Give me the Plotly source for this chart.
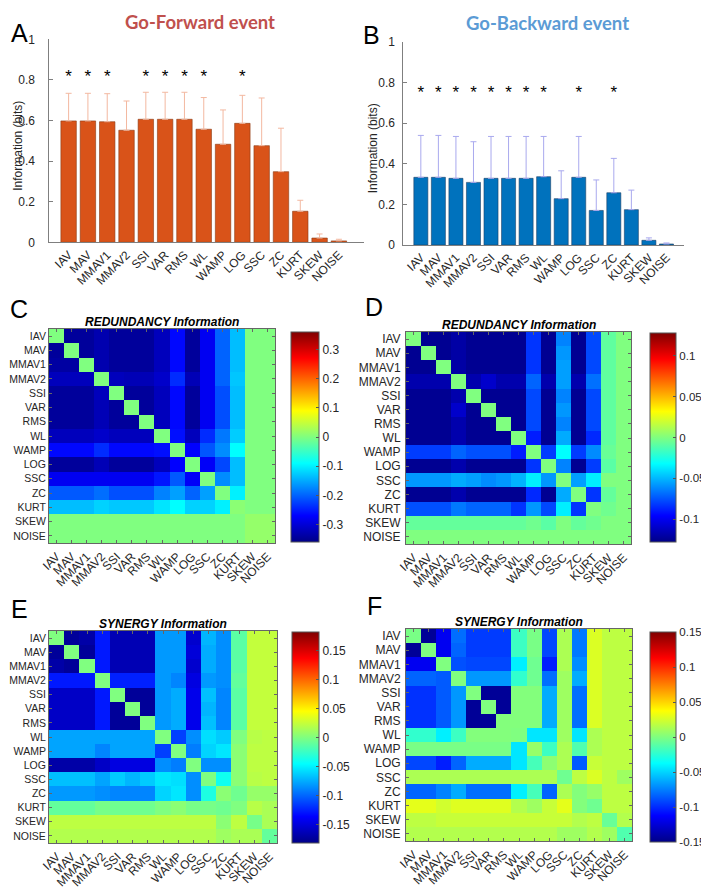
import plotly.graph_objects as go

W, H = 709, 888
# the page body adds an 8px margin; compensate so that marks land where the reference has them
OX, OY = 8, 8

features = ["IAV", "MAV", "MMAV1", "MMAV2", "SSI", "VAR", "RMS", "WL",
            "WAMP", "LOG", "SSC", "ZC", "KURT", "SKEW", "NOISE"]

# Panel A: Go-Forward information (bits) and upper error
fwd_info = [0.598, 0.598, 0.594, 0.552, 0.606, 0.606, 0.606, 0.557,
            0.483, 0.586, 0.476, 0.348, 0.153, 0.021, 0.007]
fwd_err = [0.136, 0.136, 0.138, 0.144, 0.133, 0.133, 0.133, 0.156,
           0.169, 0.138, 0.235, 0.214, 0.054, 0.020, 0.008]
fwd_sig = ["IAV", "MAV", "MMAV1", "SSI", "VAR", "RMS", "WL", "LOG"]
fwd_star_level = 0.81

# Panel B: Go-Backward information (bits) and upper error
bwd_info = [0.333, 0.333, 0.328, 0.308, 0.328, 0.328, 0.328, 0.336,
            0.228, 0.333, 0.170, 0.257, 0.174, 0.023, 0.005]
bwd_err = [0.206, 0.206, 0.206, 0.200, 0.206, 0.206, 0.206, 0.198,
           0.137, 0.201, 0.150, 0.169, 0.096, 0.012, 0.005]
bwd_sig = ["IAV", "MAV", "MMAV1", "MMAV2", "SSI", "VAR", "RMS", "WL", "LOG", "ZC"]
bwd_star_level = 0.745

# Panel C: redundancy, go-forward
red_fwd = [
    [0, -0.345, -0.345, -0.33, -0.345, -0.345, -0.345, -0.32, -0.265, -0.345, -0.28, -0.2, -0.136, 0, 0],
    [-0.345, 0, -0.345, -0.33, -0.345, -0.345, -0.345, -0.32, -0.265, -0.345, -0.28, -0.2, -0.136, 0, 0],
    [-0.34, -0.34, 0, -0.33, -0.345, -0.345, -0.345, -0.32, -0.265, -0.345, -0.28, -0.2, -0.136, 0, 0],
    [-0.32, -0.32, -0.32, 0, -0.32, -0.325, -0.325, -0.31, -0.24, -0.325, -0.28, -0.2, -0.13, 0, 0],
    [-0.345, -0.345, -0.345, -0.32, 0, -0.345, -0.345, -0.32, -0.265, -0.345, -0.28, -0.215, -0.136, 0, 0],
    [-0.345, -0.345, -0.345, -0.325, -0.345, 0, -0.345, -0.32, -0.265, -0.345, -0.28, -0.215, -0.136, 0, 0],
    [-0.345, -0.345, -0.345, -0.325, -0.345, -0.345, 0, -0.32, -0.265, -0.345, -0.28, -0.215, -0.136, 0, 0],
    [-0.32, -0.32, -0.32, -0.31, -0.32, -0.32, -0.32, 0, -0.26, -0.32, -0.24, -0.185, -0.125, 0, 0],
    [-0.265, -0.265, -0.265, -0.24, -0.265, -0.265, -0.265, -0.26, 0, -0.27, -0.21, -0.171, -0.09, 0, 0],
    [-0.345, -0.345, -0.345, -0.325, -0.345, -0.345, -0.345, -0.32, -0.27, 0, -0.275, -0.22, -0.136, 0, 0],
    [-0.28, -0.28, -0.28, -0.28, -0.28, -0.28, -0.28, -0.255, -0.207, -0.275, 0, -0.171, -0.136, 0, 0],
    [-0.207, -0.207, -0.207, -0.192, -0.214, -0.214, -0.214, -0.178, -0.157, -0.2, -0.157, 0, -0.1, 0, 0],
    [-0.136, -0.136, -0.136, -0.122, -0.129, -0.129, -0.129, -0.108, -0.09, -0.122, -0.122, -0.1, 0.008, 0, 0],
    [0, 0, 0, 0, 0, 0, 0, 0, 0, 0, 0, 0, 0, 0.015, 0.015],
    [0, 0, 0, 0, 0, 0, 0, 0, 0, 0, 0, 0, 0, 0.015, 0.015],
]

# Panel D: redundancy, go-backward
red_bwd = [
    [0, -0.125, -0.125, -0.12, -0.125, -0.125, -0.125, -0.125, -0.083, -0.125, -0.063, -0.125, -0.078, -0.008, 0],
    [-0.125, 0, -0.125, -0.12, -0.125, -0.125, -0.125, -0.125, -0.083, -0.125, -0.058, -0.125, -0.078, -0.008, 0],
    [-0.125, -0.125, 0, -0.12, -0.125, -0.125, -0.125, -0.125, -0.083, -0.125, -0.056, -0.125, -0.078, -0.008, 0],
    [-0.118, -0.118, -0.118, 0, -0.118, -0.11, -0.118, -0.118, -0.071, -0.118, -0.056, -0.118, -0.068, -0.008, 0],
    [-0.125, -0.125, -0.125, -0.118, 0, -0.125, -0.125, -0.125, -0.078, -0.125, -0.063, -0.125, -0.078, -0.008, 0],
    [-0.125, -0.125, -0.125, -0.11, -0.125, 0, -0.125, -0.125, -0.078, -0.125, -0.058, -0.125, -0.078, -0.008, 0],
    [-0.125, -0.125, -0.125, -0.118, -0.125, -0.125, 0, -0.125, -0.078, -0.125, -0.063, -0.125, -0.078, -0.008, 0],
    [-0.125, -0.125, -0.125, -0.118, -0.125, -0.125, -0.125, 0, -0.089, -0.125, -0.053, -0.125, -0.086, -0.008, 0],
    [-0.081, -0.081, -0.081, -0.071, -0.076, -0.076, -0.076, -0.089, 0, -0.081, -0.032, -0.081, -0.061, -0.006, 0],
    [-0.125, -0.125, -0.125, -0.118, -0.125, -0.125, -0.125, -0.125, -0.083, 0, -0.063, -0.125, -0.081, -0.0095, 0],
    [-0.058, -0.058, -0.058, -0.053, -0.056, -0.061, -0.058, -0.051, -0.036, -0.058, 0, -0.056, -0.036, 0, 0],
    [-0.125, -0.125, -0.125, -0.118, -0.125, -0.125, -0.125, -0.125, -0.086, -0.125, -0.053, 0, -0.083, -0.007, 0],
    [-0.076, -0.076, -0.076, -0.066, -0.071, -0.071, -0.071, -0.083, -0.058, -0.078, -0.036, -0.083, 0, -0.004, 0],
    [-0.007, -0.007, -0.007, -0.007, -0.007, -0.007, -0.007, -0.007, -0.004, -0.0095, 0, -0.007, -0.004, 0, 0],
    [0, 0, 0, 0, 0, 0, 0, 0, 0, 0, 0, 0, 0, 0, 0],
]

# Panel E: synergy, go-forward
syn_fwd = [
    [0, -0.175, -0.17, -0.128, -0.165, -0.165, -0.165, -0.082, -0.082, -0.155, -0.072, -0.086, -0.013, 0.024, 0.024],
    [-0.175, 0, -0.175, -0.128, -0.165, -0.165, -0.165, -0.082, -0.082, -0.151, -0.075, -0.086, -0.013, 0.024, 0.024],
    [-0.17, -0.175, 0, -0.128, -0.165, -0.165, -0.165, -0.082, -0.082, -0.155, -0.075, -0.086, -0.013, 0.024, 0.024],
    [-0.128, -0.128, -0.128, 0, -0.125, -0.125, -0.125, -0.082, -0.089, -0.148, -0.082, -0.086, -0.01, 0.024, 0.024],
    [-0.158, -0.158, -0.158, -0.128, 0, -0.175, -0.175, -0.082, -0.075, -0.144, -0.068, -0.089, -0.013, 0.024, 0.024],
    [-0.158, -0.158, -0.158, -0.128, -0.175, 0, -0.175, -0.082, -0.075, -0.144, -0.072, -0.089, -0.013, 0.024, 0.024],
    [-0.158, -0.158, -0.158, -0.128, -0.175, -0.175, 0, -0.082, -0.075, -0.144, -0.068, -0.089, -0.013, 0.024, 0.024],
    [-0.078, -0.078, -0.078, -0.078, -0.078, -0.078, -0.078, 0, -0.114, -0.086, -0.057, -0.064, 0, 0.02, 0.022],
    [-0.078, -0.078, -0.078, -0.089, -0.078, -0.078, -0.078, -0.114, 0, -0.092, -0.061, -0.054, 0.004, 0.022, 0.022],
    [-0.17, -0.17, -0.17, -0.158, -0.148, -0.148, -0.148, -0.086, -0.092, 0, -0.086, -0.086, 0.004, 0.022, 0.022],
    [-0.068, -0.068, -0.068, -0.078, -0.064, -0.072, -0.064, -0.054, -0.057, -0.086, 0, -0.04, 0.004, 0.02, 0.022],
    [-0.082, -0.082, -0.082, -0.086, -0.089, -0.089, -0.089, -0.061, -0.054, -0.086, -0.035, 0.004, -0.006, 0.008, 0.008],
    [-0.01, -0.01, -0.01, -0.003, -0.006, -0.006, -0.006, 0, 0.004, -0.003, -0.003, -0.006, 0, 0.02, 0.015],
    [0.022, 0.022, 0.022, 0.022, 0.022, 0.022, 0.022, 0.022, 0.022, 0.022, 0.022, 0.004, 0.022, -0.003, 0.015],
    [0.018, 0.018, 0.018, 0.018, 0.018, 0.018, 0.018, 0.018, 0.018, 0.018, 0.018, 0.011, 0.015, 0.015, -0.01],
]

# Panel F: synergy, go-backward
syn_bwd = [
    [-0.002, -0.145, -0.117, -0.08, -0.095, -0.095, -0.095, -0.02, -0.002, -0.092, 0.013, -0.077, 0.027, 0.018, 0.018],
    [-0.145, 0, -0.117, -0.083, -0.095, -0.095, -0.095, -0.02, -0.002, -0.092, 0.013, -0.077, 0.027, 0.018, 0.018],
    [-0.117, -0.117, 0, -0.089, -0.092, -0.092, -0.092, -0.042, -0.005, -0.104, 0.013, -0.071, 0.027, 0.018, 0.018],
    [-0.083, -0.083, -0.086, 0, -0.068, -0.068, -0.068, -0.023, -0.005, -0.08, 0.009, -0.062, 0.027, 0.018, 0.018],
    [-0.098, -0.098, -0.086, -0.068, 0, -0.145, -0.145, 0.001, 0.001, -0.062, 0.009, -0.08, 0.027, 0.018, 0.018],
    [-0.098, -0.098, -0.086, -0.068, -0.145, 0, -0.145, 0.001, 0.001, -0.062, 0.009, -0.08, 0.027, 0.018, 0.018],
    [-0.098, -0.098, -0.086, -0.068, -0.145, -0.145, 0.001, 0.001, 0.001, -0.062, 0.009, -0.08, 0.027, 0.018, 0.018],
    [-0.023, -0.023, -0.042, -0.02, 0.001, 0.001, 0.001, 0, -0.045, -0.045, 0.009, -0.045, 0.013, 0.018, 0.018],
    [-0.002, -0.002, -0.002, -0.002, -0.002, -0.002, -0.002, -0.045, 0.007, -0.02, 0.013, -0.014, 0.013, 0.018, 0.018],
    [-0.092, -0.092, -0.104, -0.083, -0.062, -0.062, -0.062, -0.045, -0.017, 0.004, 0.013, -0.086, 0.021, 0.018, 0.018],
    [0.013, 0.013, 0.013, 0.013, 0.013, 0.013, 0.013, 0.013, 0.013, 0.013, -0.005, 0.018, 0.027, 0.018, 0.009],
    [-0.083, -0.083, -0.074, -0.062, -0.08, -0.08, -0.08, -0.042, -0.017, -0.083, 0.013, 0.001, 0.007, 0.018, 0.018],
    [0.03, 0.03, 0.024, 0.028, 0.028, 0.028, 0.028, 0.015, 0.009, 0.021, 0.03, 0.001, -0.005, 0.018, 0.018],
    [0.018, 0.018, 0.021, 0.021, 0.021, 0.021, 0.021, 0.021, 0.021, 0.021, 0.021, 0.015, 0.018, -0.007, 0.015],
    [0.015, 0.015, 0.015, 0.015, 0.015, 0.015, 0.015, 0.015, 0.015, 0.015, 0.009, 0.009, 0.015, 0.009, -0.014],
]

# colour limits and colourbar ticks per heatmap
c_lims = {"C": 0.36, "D": 0.128, "E": 0.182, "F": 0.15}
cb_ticks = {
    "C": [-0.3, -0.2, -0.1, 0, 0.1, 0.2, 0.3],
    "D": [-0.1, -0.05, 0, 0.05, 0.1],
    "E": [-0.15, -0.1, -0.05, 0, 0.05, 0.1, 0.15],
    "F": [-0.15, -0.1, -0.05, 0, 0.05, 0.1, 0.15],
}
bar_yticks = [0, 0.2, 0.4, 0.6, 0.8, 1]

FONT = "Liberation Sans, Arial, sans-serif"
TXT = "#262626"
AXC = "#7f7f7f"

jet = [[0.0, "rgb(0,0,135)"], [0.125, "rgb(0,0,255)"], [0.375, "rgb(0,255,255)"],
       [0.625, "rgb(255,255,0)"], [0.875, "rgb(255,0,0)"], [1.0, "rgb(128,0,0)"]]


def fx(px):
    return (px - OX) / W


def fy(py):
    return 1 - (py - OY) / H


def fmt(v):
    return "%g" % v


fig = go.Figure()
layout = dict(width=W, height=H,
              margin=dict(l=0, r=0, t=0, b=0, pad=0, autoexpand=False), autosize=False,
              paper_bgcolor="white", plot_bgcolor="white", showlegend=False,
              font=dict(family=FONT, size=12, color=TXT))
annotations = []


def note(text, x, y, size, color="black", family=FONT, angle=0):
    annotations.append(dict(text=text, x=fx(x), y=fy(y), xref="paper", yref="paper",
                            xanchor="center", yanchor="middle", showarrow=False,
                            textangle=angle, font=dict(size=size, color=color, family=family)))


# ---------- bar panels ----------
bar_specs = [
    ("", fwd_info, fwd_err, fwd_sig, fwd_star_level, "#D95319", "#8a3b14", "#F3B8A0",
     49.3, 364, 39.3, 242.3, [-1.0, 15.3], 11, 18),
    ("2", bwd_info, bwd_err, bwd_sig, bwd_star_level, "#0072BD", "#1d3f66", "#A9A9EE",
     403.3, 684, 41.7, 245, [-1.0, 15.0], 5, 373),
]
for key, info, err, sig, star, col, edge, ecol, x0, x1, yt, yb, xr, so, tx in bar_specs:
    xa, ya = "x" + key, "y" + key
    fig.add_trace(go.Bar(
        x=list(range(len(features))), y=info, xaxis=xa, yaxis=ya,
        marker=dict(color=col, line=dict(color=edge, width=0.6)), width=0.8,
        error_y=dict(type="data", array=err, arrayminus=[0] * len(err), symmetric=False,
                     color=ecol, thickness=1, width=3),
    ))
    sx = [features.index(s) for s in sig]
    fig.add_trace(go.Scatter(
        x=sx, y=[star] * len(sx), xaxis=xa, yaxis=ya, mode="text",
        text=["*"] * len(sx), textposition="middle center",
        textfont=dict(size=17, color="black", family=FONT), hoverinfo="skip"))
    layout["xaxis" + key] = dict(
        domain=[fx(x0), fx(x1)], anchor=ya, range=xr,
        tickvals=list(range(len(features))), ticktext=features, tickangle=-45,
        showline=True, linecolor=AXC, linewidth=1, ticks="", showgrid=False,
        zeroline=False, tickfont=dict(size=12, color=TXT))
    layout["yaxis" + key] = dict(
        domain=[fy(yb), fy(yt)], anchor=xa, range=[0, 1],
        tickvals=bar_yticks, ticktext=[fmt(v) for v in bar_yticks],
        showline=True, linecolor=AXC, linewidth=1, ticks="inside", ticklen=4,
        tickcolor=AXC, showgrid=False, zeroline=False, ticklabelstandoff=so,
        tickfont=dict(size=12, color=TXT))
    note("Information (bits)", tx, (yt + yb) / 2 + 5, 12, TXT, angle=-90)

# ---------- heatmaps ----------
hm_specs = [
    ("C", "3", red_fwd, 49, 275, 329, 543, 291, 319, 332, 542),
    ("D", "4", red_bwd, 406, 631, 332, 544, 650, 676, 333, 542),
    ("E", "5", syn_fwd, 49, 277, 631, 843, 292, 319, 632, 843),
    ("F", "6", syn_bwd, 406, 632, 629, 841, 650, 676, 632, 842),
]
for name, key, z, x0, x1, yt, yb, cx0, cx1, cyt, cyb in hm_specs:
    xa, ya = "x" + key, "y" + key
    lim = c_lims[name]
    tv = cb_ticks[name]
    left_panel = x0 < 100
    fig.add_trace(go.Heatmap(
        z=z, x=features, y=features, xaxis=xa, yaxis=ya,
        colorscale=jet, zmin=-lim, zmax=lim,
        colorbar=dict(
            x=fx(cx0), xanchor="left", xpad=0, y=fy(cyt), yanchor="top", ypad=0,
            len=cyb - cyt, lenmode="pixels", thickness=cx1 - cx0, thicknessmode="pixels",
            outlinewidth=1, outlinecolor="#555555", ticks="inside", ticklen=3,
            tickcolor="#555555", tickvals=tv, ticktext=[fmt(v) for v in tv],
            tickfont=dict(size=12 if left_panel else 11.5, color=TXT)),
    ))
    layout["xaxis" + key] = dict(
        domain=[fx(x0), fx(x1)], anchor=ya, type="category", range=[-0.5, 14.5],
        tickmode="array", tickvals=features, ticktext=features,
        tickangle=-45, showline=True, mirror="ticks", linecolor="#666666", linewidth=1,
        ticks="inside", ticklen=3, tickcolor="#666666", showgrid=False, zeroline=False,
        tickfont=dict(size=12, color=TXT), ticklabelstandoff=1)
    layout["yaxis" + key] = dict(
        domain=[fy(yb), fy(yt)], anchor=xa, type="category", range=[14.5, -0.5],
        tickmode="array", tickvals=features, ticktext=features,
        showline=True, mirror="ticks", linecolor="#666666", linewidth=1,
        ticks="inside", ticklen=3, tickcolor="#666666", showgrid=False, zeroline=False,
        tickfont=dict(size=10.5 if left_panel else 12, color=TXT),
        ticklabelstandoff=0 if left_panel else 2)
    title = "REDUNDANCY Information" if name in ("C", "D") else "SYNERGY Information"
    note("<b><i>" + title + "</i></b>", (x0 + x1) / 2, yt - 7, 12)

# ---------- panel letters and headers ----------
letters = [("A", 19, 33), ("B", 371, 35), ("C", 19, 309), ("D", 374, 307),
           ("E", 19, 609), ("F", 374, 606)]
for t, x, y in letters:
    note(t, x, y, 25)

note("<b>Go-Forward event</b>", 200, 22, 18.5, "#C0504D", "Lato, Open Sans, sans-serif")
note("<b>Go-Backward event</b>", 547, 23, 18.5, "#5B9BD5", "Lato, Open Sans, sans-serif")

layout["annotations"] = annotations
fig.update_layout(**layout)
fig.write_html("out.html")
